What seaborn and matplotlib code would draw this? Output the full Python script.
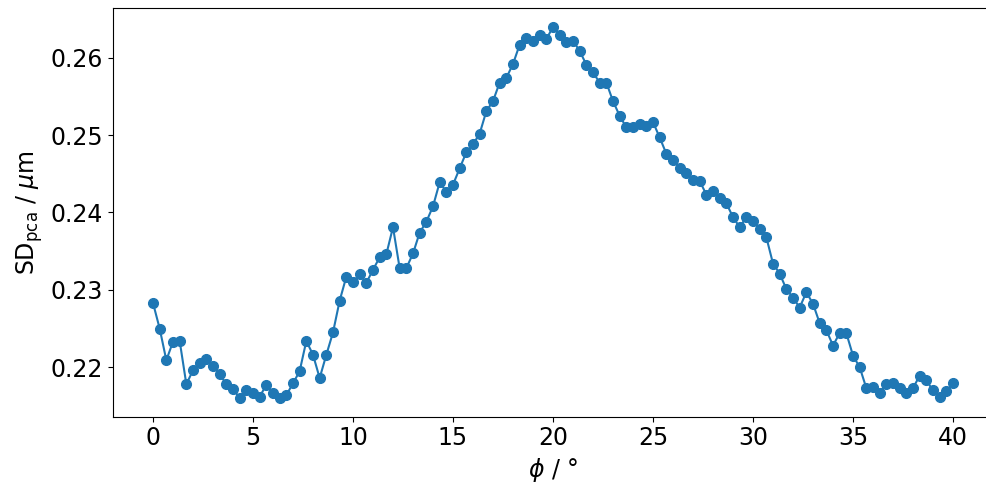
import numpy as np
import pandas as pd
import matplotlib
matplotlib.use("Agg")
import matplotlib.pyplot as plt
import seaborn as sns

# angle grid, 1/3 degree steps from 0 to 40
phi = np.linspace(0, 40, 121)

sd_pca = [
    0.2283, 0.2250, 0.2209, 0.2233, 0.2234, 0.2178, 0.2196, 0.2206, 0.2210, 0.2202,
    0.2191, 0.2178, 0.2172, 0.2160, 0.2170, 0.2167, 0.2162, 0.2177, 0.2166, 0.2160,
    0.2164, 0.2179, 0.2195, 0.2234, 0.2216, 0.2186, 0.2216, 0.2245, 0.2286, 0.2317,
    0.2310, 0.2320, 0.2309, 0.2326, 0.2342, 0.2346, 0.2381, 0.2328, 0.2328, 0.2347,
    0.2374, 0.2388, 0.2408, 0.2439, 0.2427, 0.2436, 0.2457, 0.2478, 0.2488, 0.2502,
    0.2531, 0.2544, 0.2568, 0.2574, 0.2592, 0.2617, 0.2625, 0.2622, 0.2630, 0.2624,
    0.2640, 0.2629, 0.2621, 0.2622, 0.2609, 0.2591, 0.2581, 0.2568, 0.2568, 0.2544,
    0.2525, 0.2510, 0.2510, 0.2515, 0.2512, 0.2517, 0.2497, 0.2476, 0.2468, 0.2457,
    0.2451, 0.2442, 0.2441, 0.2423, 0.2428, 0.2419, 0.2412, 0.2394, 0.2381, 0.2394,
    0.2389, 0.2379, 0.2368, 0.2334, 0.2321, 0.2301, 0.2290, 0.2277, 0.2297, 0.2282,
    0.2257, 0.2248, 0.2228, 0.2244, 0.2244, 0.2215, 0.2200, 0.2173, 0.2175, 0.2167,
    0.2178, 0.2180, 0.2173, 0.2166, 0.2173, 0.2189, 0.2183, 0.2170, 0.2162, 0.2169,
    0.2179,
]

df = pd.DataFrame({'phi': phi, 'sd': sd_pca})

plt.rcParams['font.family'] = ['DejaVu Sans']
plt.rcParams['mathtext.fontset'] = 'dejavusans'

fig = plt.figure(figsize=(9.87, 4.88), dpi=100)
# axes runs a little past the right edge, as in the reference crop
ax = fig.add_axes([113 / 987, 71.3 / 488, 880 / 987, 408.4 / 488])

sns.lineplot(data=df, x='phi', y='sd', marker='o', color='#1f77b4',
             markersize=7, markeredgecolor='#1f77b4', markeredgewidth=1,
             linewidth=1.5, ax=ax)

ax.set_xticks([0, 5, 10, 15, 20, 25, 30, 35, 40])
ax.set_yticks([0.22, 0.23, 0.24, 0.25, 0.26])
ax.tick_params(labelsize=17)
ax.set_xlabel(r'$\phi$ / °', fontsize=17)
ax.set_ylabel(r'SD$_{\mathrm{pca}}$ / $\mu$m', fontsize=17)

fig.savefig('out.png', dpi=100)
